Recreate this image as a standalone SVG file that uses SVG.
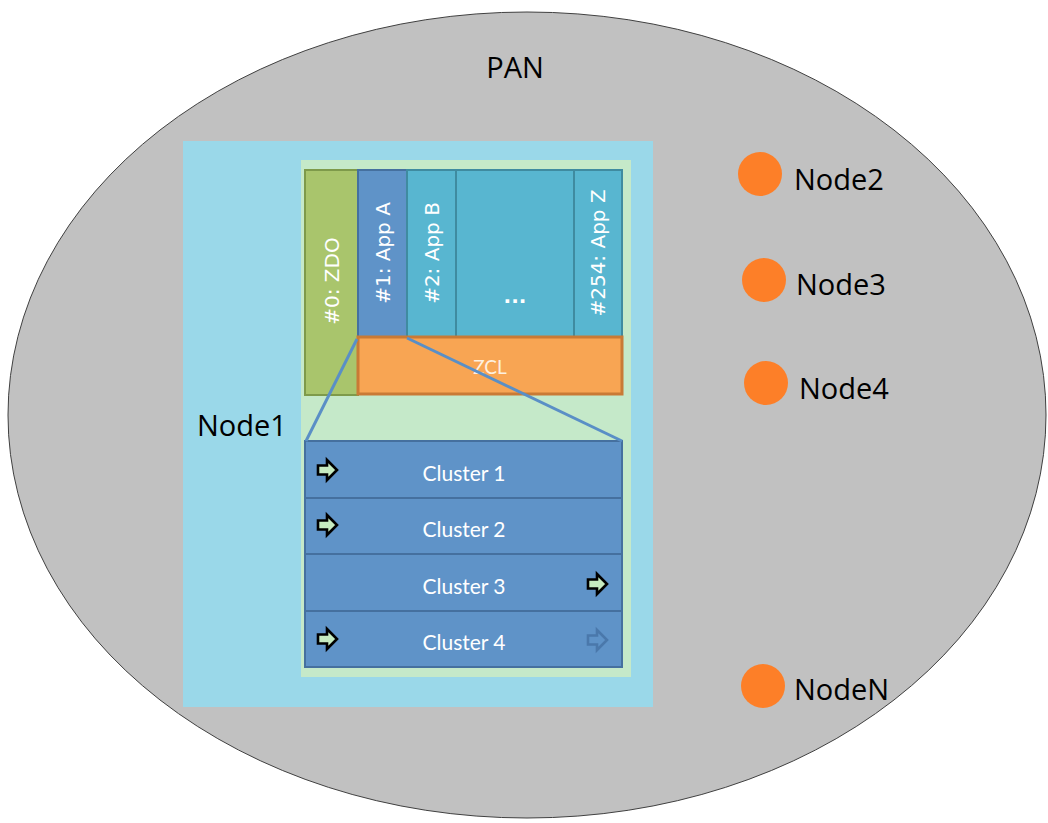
<svg xmlns="http://www.w3.org/2000/svg" width="1048" height="823" viewBox="0 0 1048 823">
  <defs>
    <style>
      .lbl { font-family: "Open Sans", "Noto Sans", sans-serif; font-size: 29px; fill: #000; }
      .vt { font-family: "DejaVu Sans", "Noto Sans", sans-serif; font-size: 20px; fill: #fff; }
      .cl { font-family: "Lato", "Open Sans", sans-serif; font-size: 21px; fill: #fff; text-anchor: middle; }
      .dot { fill: #fd7f28; }
      .row { fill: #5f93c8; stroke: #45709f; stroke-width: 2; }
      .arr { fill: #c6ebc0; stroke: #000; stroke-width: 2.6; stroke-linejoin: miter; }
      .arr-dim { fill: none; stroke: #4a78ab; stroke-width: 2.6; }
    </style>
    <path id="blk" d="M0,-4.5 L9,-4.5 L9,-10 L19,0 L9,10 L9,4.5 L0,4.5 Z"/>
  </defs>

  <!-- network area -->
  <g id="pan">
    <ellipse cx="527" cy="415" rx="519" ry="403" fill="#c1c1c1" stroke="#404040" stroke-width="1"/>
    <text class="lbl" x="515" y="78" text-anchor="middle">PAN</text>
  </g>

  <!-- Node1 with its endpoint stack -->
  <g id="node1">
    <rect x="183" y="141" width="470" height="566" fill="#9ad8e9"/>
    <text class="lbl" x="197" y="436">Node1</text>
    <rect x="301" y="160" width="330" height="517" fill="#c5e9c9"/>

    <g id="zdo">
      <rect x="305" y="170" width="53" height="225" fill="#a9c56c" stroke="#7e9a4a" stroke-width="2"/>
      <text class="vt" transform="translate(339,281) rotate(-90)" text-anchor="middle">#0: ZDO</text>
    </g>
    <g id="appA">
      <rect x="358" y="170" width="49" height="167" fill="#5f93c8" stroke="#45709f" stroke-width="2"/>
      <text class="vt" transform="translate(390,253) rotate(-90)" text-anchor="middle">#1: App A</text>
    </g>
    <g id="appB">
      <rect x="407" y="170" width="49" height="167" fill="#58b6d0" stroke="#3f8ba0" stroke-width="2"/>
      <text class="vt" transform="translate(439,253) rotate(-90)" text-anchor="middle">#2: App B</text>
    </g>
    <g id="appMore">
      <rect x="456" y="170" width="118" height="167" fill="#58b6d0" stroke="#3f8ba0" stroke-width="2"/>
      <text class="vt" x="515" y="303" text-anchor="middle" font-weight="bold">...</text>
    </g>
    <g id="appZ">
      <rect x="574" y="170" width="48" height="167" fill="#58b6d0" stroke="#3f8ba0" stroke-width="2"/>
      <text class="vt" transform="translate(605,253) rotate(-90)" text-anchor="middle">#254: App Z</text>
    </g>
    <g id="zcl">
      <rect x="358" y="337" width="264" height="57" fill="#f8a553" stroke="#c97a35" stroke-width="3"/>
      <text x="490" y="374" text-anchor="middle" font-family="Lato, 'Open Sans', sans-serif" font-size="19" fill="#fdf0e0">ZCL</text>
    </g>

    <g id="clusters">
      <rect class="row" x="305" y="441" width="317" height="57"/>
      <rect class="row" x="305" y="498" width="317" height="56"/>
      <rect class="row" x="305" y="554" width="317" height="57"/>
      <rect class="row" x="305" y="611" width="317" height="56"/>
      <text class="cl" x="464" y="481">Cluster 1</text>
      <text class="cl" x="464" y="537">Cluster 2</text>
      <text class="cl" x="464" y="594">Cluster 3</text>
      <text class="cl" x="464" y="650">Cluster 4</text>
      <use href="#blk" class="arr" x="318" y="470"/>
      <use href="#blk" class="arr" x="318" y="525"/>
      <use href="#blk" class="arr" x="588" y="584"/>
      <use href="#blk" class="arr" x="318" y="639"/>
      <use href="#blk" class="arr-dim" x="588" y="640"/>
    </g>
  </g>

  <!-- zoom lines from App A down to its clusters -->
  <g id="connectors" stroke="#5a8fc6" stroke-width="3" fill="none">
    <line x1="357" y1="339" x2="306" y2="441"/>
    <line x1="407" y1="338" x2="622" y2="441"/>
  </g>

  <g id="node2">
    <circle class="dot" cx="760" cy="174" r="22"/>
    <text class="lbl" x="794" y="190">Node2</text>
  </g>
  <g id="node3">
    <circle class="dot" cx="764" cy="280" r="22"/>
    <text class="lbl" x="796" y="295">Node3</text>
  </g>
  <g id="node4">
    <circle class="dot" cx="766" cy="383" r="22"/>
    <text class="lbl" x="799" y="399">Node4</text>
  </g>
  <g id="nodeN">
    <circle class="dot" cx="763" cy="686" r="22"/>
    <text class="lbl" x="794" y="700">NodeN</text>
  </g>
</svg>
